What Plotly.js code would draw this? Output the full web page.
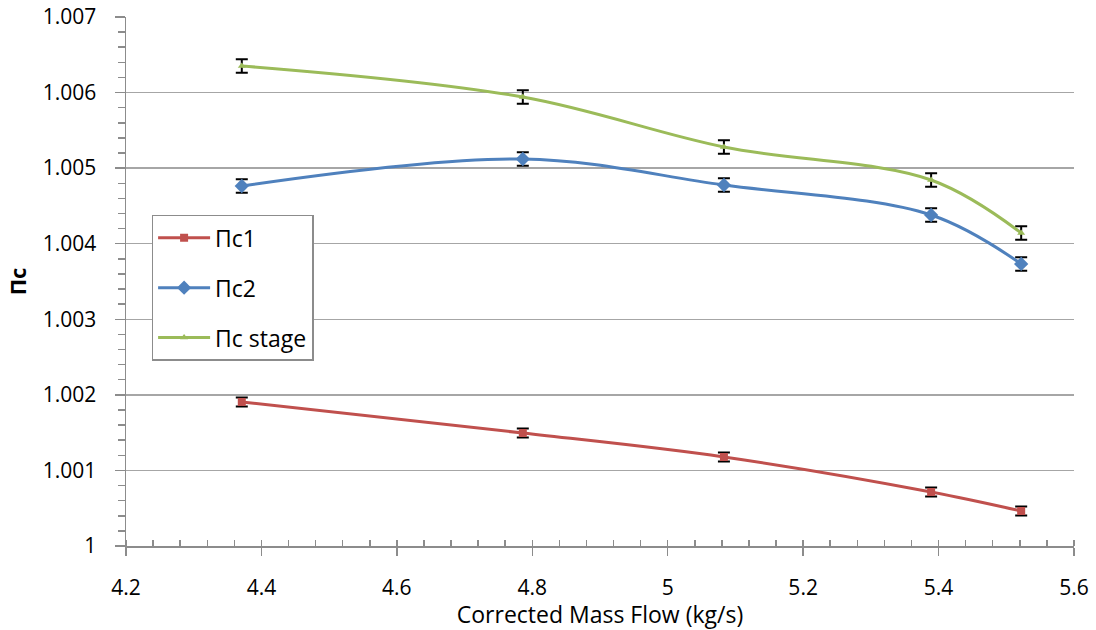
<!DOCTYPE html>
<html>
<head>
<meta charset="utf-8">
<script src="https://cdn.plot.ly/plotly-3.0.1.min.js"></script>
<style>html,body{margin:0;padding:0;background:#fff;}#chart{width:1096px;height:630px;}</style>
</head>
<body>
<div id="chart"></div>
<script>
const massFlow = [4.371, 4.786, 5.083, 5.389, 5.522];
const pc1 = [1.001906, 1.001495, 1.001178, 1.000715, 1.000463];
const pc2 = [1.004764, 1.005121, 1.004777, 1.004380, 1.003732];
const pcStage = [1.006352, 1.005941, 1.005280, 1.004843, 1.004142];
const err1 = [0.00006, 0.00006, 0.00006, 0.00006, 0.00006];
const err2 = [0.00009, 0.00009, 0.00009, 0.00009, 0.00009];
const errStage = [0.00009, 0.00009, 0.00009, 0.00009, 0.00009];
const seriesNames = ['Πc1', 'Πc2', 'Πc stage'];

function mk(name, y, err, color, symbol, size, group) {
  return {
    x: massFlow, y: y, name: name, type: 'scatter', mode: 'lines+markers',
    legendgroup: group,
    line: {color: color, width: 3, shape: 'spline', smoothing: 1},
    marker: {color: color, symbol: symbol, size: size},
    error_y: {type: 'data', array: err, visible: true, color: '#000', thickness: 2, width: 6}
  };
}
const data = [
  mk(seriesNames[0], pc1, err1, '#C0504D', 'square', 8, 'a'),
  mk(seriesNames[1], pc2, err2, '#4F81BD', 'diamond', 11, 'b'),
  mk(seriesNames[2], pcStage, errStage, '#9BBB59', 'triangle-up', 7, 'c')
];
const layout = {
  width: 1096, height: 630,
  margin: {l: 126, r: 22, t: 17, b: 84},
  paper_bgcolor: '#fff', plot_bgcolor: '#fff',
  font: {family: 'Open Sans, Liberation Sans, sans-serif', size: 21, color: '#000'},
  showlegend: true,
  legend: {
    x: 0.027, y: 0.626, xanchor: 'left', yanchor: 'top',
    bordercolor: '#8c8c8c', borderwidth: 1.5, bgcolor: '#fff',
    font: {size: 23, family: 'Open Sans, Liberation Sans, sans-serif'},
    traceorder: 'grouped', tracegroupgap: 17, itemwidth: 52
  },
  xaxis: {
    range: [4.2, 5.6], dtick: 0.2, tick0: 4.2,
    showgrid: false, zeroline: false,
    showline: true, linecolor: '#8c8c8c', linewidth: 1.5,
    ticks: 'outside', ticklen: 8, tickcolor: '#8c8c8c', tickwidth: 1.5,
    ticklabelstandoff: 14,
    minor: {dtick: 0.04, ticks: 'inside', ticklen: 6, tickcolor: '#8c8c8c', tickwidth: 1.5, showgrid: false},
    title: {text: 'Corrected Mass Flow (kg/s)', font: {size: 23}, standoff: 0},
    tickfont: {size: 21}
  },
  yaxis: {
    range: [1, 1.007], dtick: 0.001, tick0: 1,
    showgrid: true, gridcolor: '#a6a6a6', gridwidth: 1.5,
    zeroline: false,
    showline: true, linecolor: '#8c8c8c', linewidth: 1.5,
    ticks: 'outside', ticklen: 10, tickcolor: '#8c8c8c', tickwidth: 1.5,
    ticklabelstandoff: 14,
    minor: {dtick: 0.0002, ticks: 'outside', ticklen: 7, tickcolor: '#8c8c8c', tickwidth: 1.5, showgrid: false},
    title: {text: '<b>Πc</b>', font: {size: 22}, standoff: 10},
    tickfont: {size: 21}
  }
};
Plotly.newPlot('chart', data, layout, {displayModeBar: false, staticPlot: true});
</script>
</body>
</html>
